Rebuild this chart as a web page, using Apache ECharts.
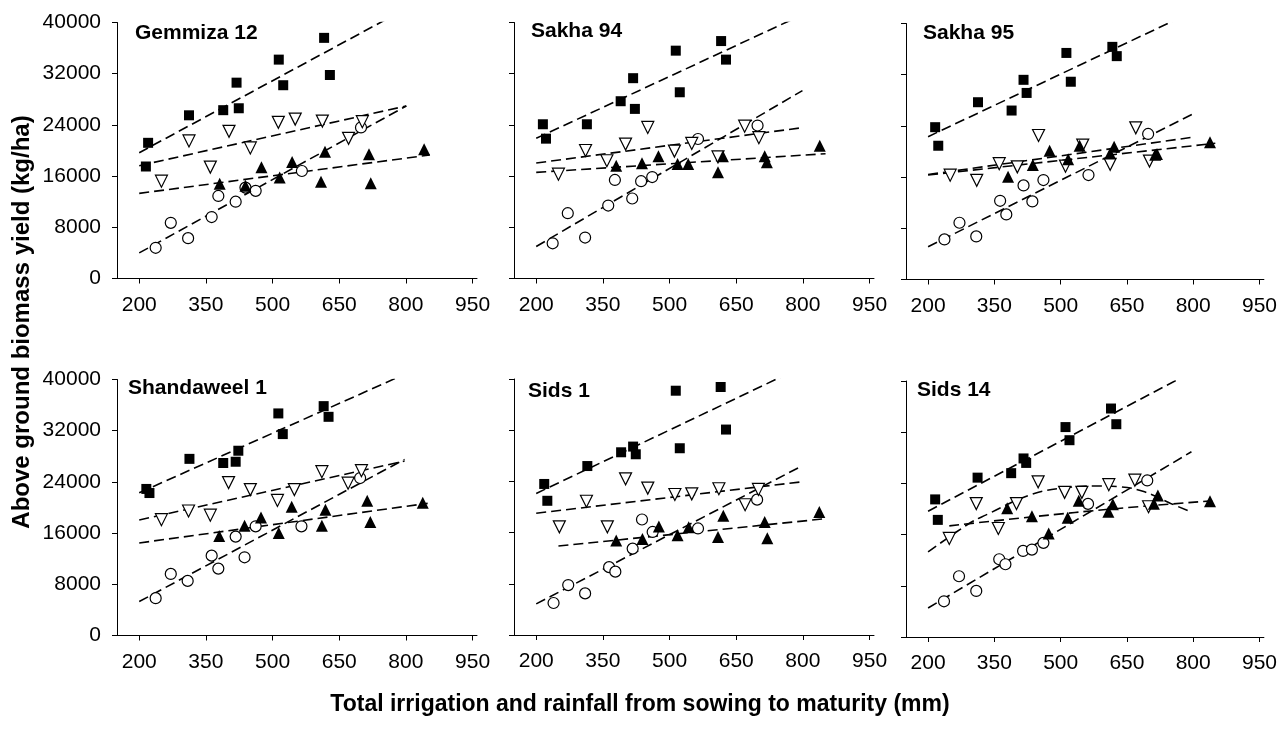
<!DOCTYPE html>
<html><head><meta charset="utf-8">
<script src="https://cdn.jsdelivr.net/npm/echarts@6/dist/echarts.min.js"></script>
<style>html,body{margin:0;padding:0;background:#fff}#c{width:1280px;height:729px}</style>
</head><body><div id="c"></div>
<script>
// ---------- panel names and tick labels ----------
const panelNames = ['Gemmiza 12', 'Sakha 94', 'Sakha 95', 'Shandaweel 1', 'Sids 1', 'Sids 14'];
const xTicks = [200, 350, 500, 650, 800, 950];
const yTicks = [0, 8000, 16000, 24000, 32000, 40000];
const xTitle = 'Total irrigation and rainfall from sowing to maturity (mm)';
const yTitle = 'Above ground biomass yield (kg/ha)';

// ---------- Gemmiza 12 ----------
const gem12Sq = [[220,21200],[215,17500],[312,25500],[389,26300],[419,30600],[424,26600],[514,34200],[524,30200],[616,37600],[629,31800]];
const gem12Down = [[250,15200],[312,21500],[360,17400],[402,23000],[450,20400],[513,24400],[551,24900],[612,24600],[671,21900],[702,24500]];
const gem12Up = [[381,14800],[439,14500],[475,17400],[516,15800],[544,18200],[609,15100],[618,19800],[717,19400],[721,14900],[841,20200]];
const gem12Circ = [[237,4800],[271,8700],[310,6300],[363,9600],[378,12900],[417,12000],[439,14200],[462,13700],[566,16800],[699,23600]];
const gem12SqFit = [[200,19660],[756,40500]];
const gem12DownFit = [[200,17630],[801,26960]];
const gem12UpFit = [[200,13300],[854,19300]];
const gem12CircFit = [[200,4000],[801,26960]];

// ---------- Sakha 94 ----------
const sak94Sq = [[215,24100],[222,21850],[314,24100],[390,27700],[418,31300],[422,26500],[514,35600],[523,29100],[616,37100],[627,34200]];
const sak94Down = [[250,16300],[311,20000],[359,18400],[401,21000],[451,23600],[511,19900],[550,21100],[609,19000],[669,23800],[701,22000]];
const sak94Up = [[380,17600],[438,18000],[475,19100],[518,17900],[542,17900],[609,16600],[620,19100],[714,19100],[719,18150],[838,20750]];
const sak94Circ = [[237,5500],[271,10200],[310,6400],[362,11400],[377,15400],[416,12500],[436,15200],[461,15850],[564,21800],[698,23900]];
const sak94SqFit = [[200,21900],[776,40470]];
const sak94DownFit = [[200,18040],[799,23570]];
const sak94UpFit = [[200,16580],[851,19500]];
const sak94CircFit = [[200,5000],[799,29360]];

// ---------- Sakha 95 ----------
const sak95Sq = [[216,23800],[223,20900],[313,27700],[389,26400],[416,31200],[423,29150],[513,35400],[523,30900],[617,36350],[627,34900]];
const sak95Down = [[250,16300],[310,15500],[361,18100],[402,17600],[450,22500],[511,17700],[550,21000],[612,18000],[670,23700],[701,18500]];
const sak95Up = [[381,16060],[437,17900],[475,20100],[517,18800],[543,20900],[612,19700],[621,20750],[714,19500],[718,19600],[838,21430]];
const sak95Circ = [[237,6260],[271,8870],[309,6730],[363,12300],[377,10170],[416,14700],[436,12200],[461,15540],[563,16320],[698,22740]];
const sak95SqFit = [[200,22320],[757,40470]];
const sak95DownFit = [[200,16400],[798,22220]];
const sak95UpFit = [[200,16320],[850,21280]];
const sak95CircFit = [[200,5110],[798,25810]];

// ---------- Shandaweel 1 ----------
const shaSq = [[216,22900],[223,22260],[313,27600],[389,26950],[417,27150],[423,28870],[513,34700],[523,31470],[615,35840],[626,34170]];
const shaDown = [[250,18100],[311,19450],[360,18800],[401,23900],[450,22800],[511,21100],[549,22800],[611,25600],[670,23800],[700,25750]];
const shaUp = [[380,15550],[437,17150],[474,18450],[514,16000],[543,20100],[611,17150],[619,19650],[713,21050],[720,17750],[838,20750]];
const shaCirc = [[237,5830],[271,9620],[309,8530],[363,12480],[378,10450],[417,15450],[437,12220],[462,17060],[565,17060],[697,24600]];
const shaSqFit = [[200,22300],[789,40570]];
const shaDownFit = [[200,18050],[797,27260]];
const shaUpFit = [[200,14460],[849,20650]];
const shaCircFit = [[200,5300],[797,27520]];

// ---------- Sids 1 ----------
const sids1Sq = [[218,23600],[225,20970],[315,26400],[391,28550],[418,29440],[424,28240],[514,38170],[523,29180],[615,38750],[627,32100]];
const sids1Down = [[252,16900],[313,20900],[360,16900],[401,24400],[451,22950],[512,21950],[550,22050],[611,22850],[670,20350],[700,22750]];
const sids1Up = [[380,14750],[439,15000],[476,16950],[518,15600],[543,16850],[609,15300],[621,18650],[714,17650],[720,15100],[837,19200]];
const sids1Circ = [[239,5000],[272,7800],[310,6500],[364,10600],[378,9900],[417,13500],[438,18050],[462,16100],[564,16650],[697,21150]];
const sids1SqFit = [[200,22120],[757,40520]];
const sids1DownFit = [[200,19030],[799,23950]];
const sids1UpFit = [[250,13900],[848,18150]];
const sids1CircFit = [[200,4860],[796,26350]];

// ---------- Sids 14 ----------
const sids14Sq = [[216,21500],[222,18300],[312,24900],[388,25600],[416,27900],[422,27200],[511,32800],[520,30750],[614,35700],[626,33250]];
const sids14Down = [[248,15400],[309,20850],[359,16950],[400,20850],[449,24250],[509,22600],[548,22600],[609,23800],[668,24500],[699,20350]];
const sids14Up = [[379,20130],[435,18880],[473,16170],[516,18620],[541,21280],[608,19560],[618,20760],[711,20810],[720,22110],[838,21230]];
const sids14Circ = [[236,5580],[270,9490],[309,7200],[361,12150],[375,11370],[415,13450],[435,13660],[461,14710],[562,20800],[696,24460]];
const sids14SqFit = [[200,19660],[773,40520]];
const sids14DownFit = [[200,13300],[293,17740],[330,19040],[435,22300],[520,23400],[577,23600],[637,23450],[690,22680],[749,20870],[795,19550]];
const sids14UpFit = [[248,17365],[435,18770],[630,20090],[843,21275]];
const sids14CircFit = [[200,4540],[796,28940]];

// ---------- assemble ----------
const panelSq = [gem12Sq, sak94Sq, sak95Sq, shaSq, sids1Sq, sids14Sq];
const panelDown = [gem12Down, sak94Down, sak95Down, shaDown, sids1Down, sids14Down];
const panelUp = [gem12Up, sak94Up, sak95Up, shaUp, sids1Up, sids14Up];
const panelCirc = [gem12Circ, sak94Circ, sak95Circ, shaCirc, sids1Circ, sids14Circ];
const panelFits = [
  [gem12SqFit, gem12DownFit, gem12UpFit, gem12CircFit],
  [sak94SqFit, sak94DownFit, sak94UpFit, sak94CircFit],
  [sak95SqFit, sak95DownFit, sak95UpFit, sak95CircFit],
  [shaSqFit, shaDownFit, shaUpFit, shaCircFit],
  [sids1SqFit, sids1DownFit, sids1UpFit, sids1CircFit],
  [sids14SqFit, sids14DownFit, sids14UpFit, sids14CircFit]
];

const FONT = "'Liberation Sans', Arial, sans-serif";
const gridPos = [
  {left:117, top:22.5}, {left:514, top:22.5}, {left:906, top:23.5},
  {left:117, top:379.5}, {left:514, top:379}, {left:906, top:381}
];
const labelPos = [
  {x:135, y:33}, {x:531, y:31}, {x:923, y:33},
  {x:128, y:388}, {x:528, y:391}, {x:917, y:390}
];

const grids = [], xAxes = [], yAxes = [], series = [], graphics = [];
gridPos.forEach((p, i) => {
  grids.push({left:p.left, top:p.top, width:360, height:256, containLabel:false});
  xAxes.push({
    type:'value', gridIndex:i, min:150, max:960,
    splitLine:{show:false},
    axisLine:{show:true, onZero:false, lineStyle:{color:'#000', width:1}},
    axisTick:{show:true, length:5, customValues:xTicks, lineStyle:{color:'#000'}},
    axisLabel:{show:true, customValues:xTicks, margin:16, color:'#000', fontSize:21, fontFamily:FONT}
  });
  yAxes.push({
    type:'value', gridIndex:i, min:0, max:40000, interval:8000,
    splitLine:{show:false},
    axisLine:{show:true, onZero:false, lineStyle:{color:'#000', width:1}},
    axisTick:{show:true, length:5, lineStyle:{color:'#000'}},
    axisLabel:{show:(i % 3 === 0), margin:16, color:'#000', fontSize:21, fontFamily:FONT,
      formatter: v => String(v)}
  });
  const fitSmooth = (i === 5);
  panelFits[i].forEach((f, k) => {
    series.push({
      type:'line', xAxisIndex:i, yAxisIndex:i, data:f, symbol:'none',
      smooth: fitSmooth && (k === 1 || k === 2) ? 0.4 : false,
      lineStyle:{color:'#000', width:1.6, type:[10,5]}, z:2, silent:true, animation:false
    });
  });
  series.push({type:'scatter', xAxisIndex:i, yAxisIndex:i, data:panelCirc[i], symbol:'circle', symbolSize:11,
    itemStyle:{color:'#fff', borderColor:'#000', borderWidth:1.2, opacity:1}, z:3, animation:false});
  series.push({type:'scatter', xAxisIndex:i, yAxisIndex:i, data:panelDown[i], symbol:'triangle', symbolRotate:180, symbolSize:12,
    itemStyle:{color:'#fff', borderColor:'#000', borderWidth:1.2, opacity:1}, z:3, animation:false});
  series.push({type:'scatter', xAxisIndex:i, yAxisIndex:i, data:panelUp[i], symbol:'triangle', symbolSize:12,
    itemStyle:{color:'#000', opacity:1}, z:4, animation:false});
  series.push({type:'scatter', xAxisIndex:i, yAxisIndex:i, data:panelSq[i], symbol:'rect', symbolSize:10,
    itemStyle:{color:'#000', opacity:1}, z:4, animation:false});
  graphics.push({type:'text', x:labelPos[i].x, y:labelPos[i].y,
    style:{text:panelNames[i], font:"bold 21px " + FONT, fill:'#000', align:'left', verticalAlign:'middle'}});
});
graphics.push({type:'text', x:640, y:705, style:{text:xTitle, font:"bold 23px " + FONT, fill:'#000', align:'center', verticalAlign:'middle'}});
graphics.push({type:'text', x:22, y:322, rotation:Math.PI/2, style:{text:yTitle, font:"bold 24px " + FONT, fill:'#000', align:'center', verticalAlign:'middle'}});

const chart = echarts.init(document.getElementById('c'), null, {renderer:'canvas'});
chart.setOption({
  animation:false,
  backgroundColor:'#fff',
  grid:grids, xAxis:xAxes, yAxis:yAxes, series:series, graphic:graphics
});
</script></body></html>
